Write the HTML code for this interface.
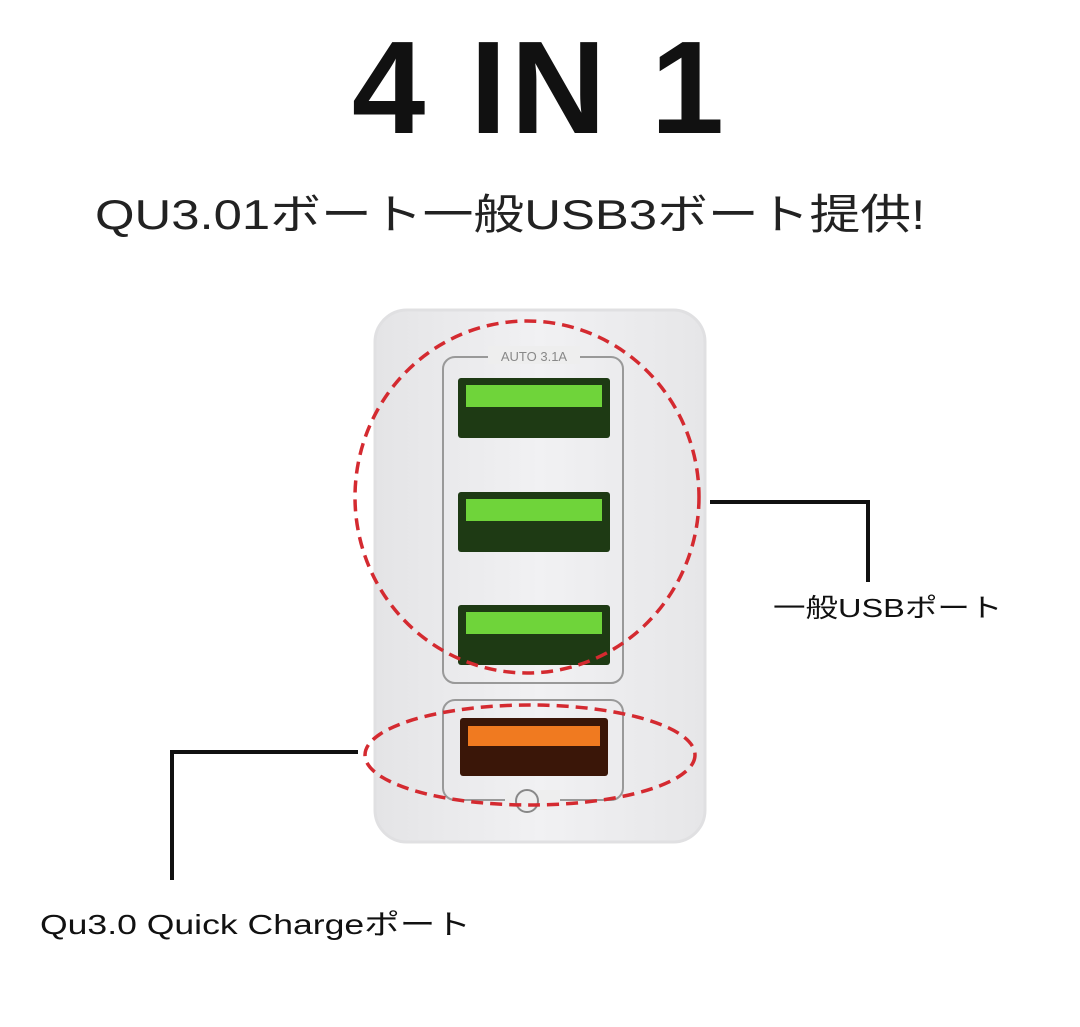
<!DOCTYPE html>
<html><head><meta charset="utf-8"><style>
html,body{margin:0;padding:0;background:#fff;}
body{width:1080px;height:1027px;position:relative;overflow:hidden;font-family:"Liberation Sans","Noto Sans CJK JP",sans-serif;}
.t{position:absolute;white-space:nowrap;color:#111;transform-origin:0 0;}
</style></head><body>
<div class="t" style="left:0;width:1080px;text-align:center;top:12px;font-size:132px;font-weight:bold;letter-spacing:4px;">4 IN 1</div>
<div class="t" style="left:95px;top:181px;font-size:42px;color:#222;transform:scaleX(1.21);">QU3.01ボート一般USB3ボート提供!</div>
<svg width="1080" height="1027" style="position:absolute;left:0;top:0">
<defs><linearGradient id="b" x1="0" x2="1"><stop offset="0" stop-color="#e4e4e6"/><stop offset=".5" stop-color="#f1f1f3"/><stop offset="1" stop-color="#e6e6e8"/></linearGradient></defs>
<rect x="375" y="310" width="330" height="532" rx="32" fill="url(#b)" stroke="#e0e0e2" stroke-width="3"/>
<rect x="443" y="357" width="180" height="326" rx="12" fill="none" stroke="#999" stroke-width="2"/>
<rect x="488" y="346" width="92" height="18" fill="#eee"/>
<text x="534" y="361" font-size="13" text-anchor="middle" fill="#888" font-family="Liberation Sans">AUTO 3.1A</text>
<g>
<rect x="458" y="378" width="152" height="60" rx="3" fill="#1e3a14"/><rect x="466" y="385" width="136" height="22" fill="#6fd43a"/>
<rect x="458" y="492" width="152" height="60" rx="3" fill="#1e3a14"/><rect x="466" y="499" width="136" height="22" fill="#6fd43a"/>
<rect x="458" y="605" width="152" height="60" rx="3" fill="#1e3a14"/><rect x="466" y="612" width="136" height="22" fill="#6fd43a"/>
</g>
<rect x="443" y="700" width="180" height="100" rx="12" fill="none" stroke="#999" stroke-width="2"/>
<rect x="505" y="790" width="55" height="20" fill="#eee"/>
<circle cx="527" cy="801" r="11" fill="none" stroke="#888" stroke-width="2"/>
<rect x="460" y="718" width="148" height="58" rx="3" fill="#3a1608"/><rect x="468" y="726" width="132" height="20" fill="#f07a20"/>
<ellipse cx="527" cy="497" rx="172" ry="176" fill="none" stroke="#d42a30" stroke-width="3.5" stroke-dasharray="12 7"/>
<ellipse cx="530" cy="755" rx="165" ry="50" fill="none" stroke="#d42a30" stroke-width="3.5" stroke-dasharray="12 7"/>
<polyline points="710,502 868,502 868,582" fill="none" stroke="#111" stroke-width="4"/>
<polyline points="358,752 172,752 172,880" fill="none" stroke="#111" stroke-width="4"/>
</svg>
<div class="t" style="left:773px;top:588px;font-size:26px;transform:scaleX(1.25);">一般USBポート</div>
<div class="t" style="left:40px;top:903px;font-size:28px;transform:scaleX(1.27);">Qu3.0 Quick Chargeポート</div>
</body></html>
